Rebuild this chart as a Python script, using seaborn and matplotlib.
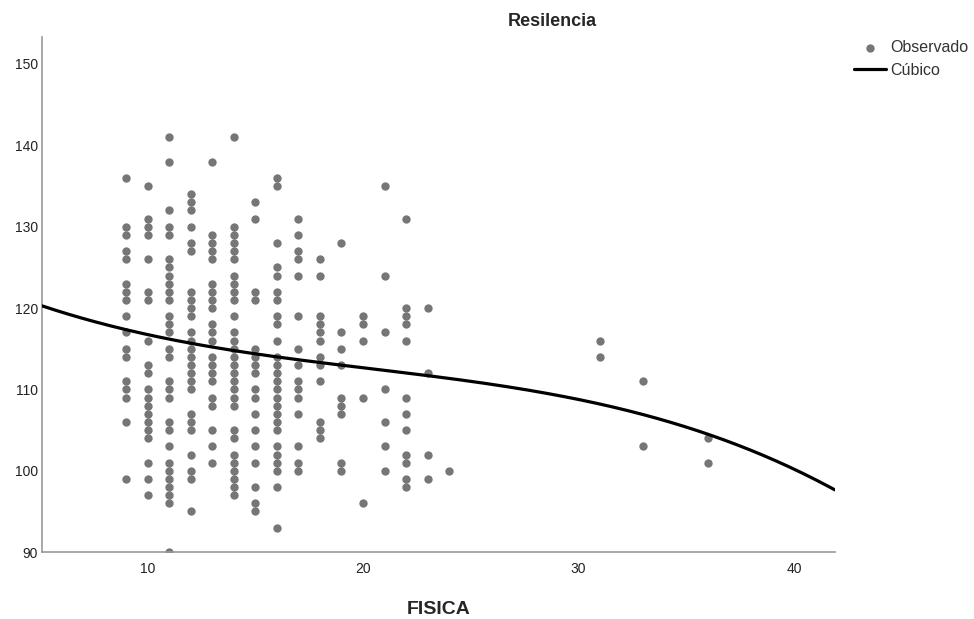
import numpy as np
import pandas as pd
import matplotlib
matplotlib.use('Agg')
import matplotlib.pyplot as plt
import seaborn as sns

# Observed Resilencia values, grouped by FISICA score
res_09 = [136, 130, 129, 127, 126, 123, 122, 121, 119, 117, 115, 114, 111, 110, 109, 106, 99]
res_10 = [135, 131, 130, 129, 126, 122, 121, 116, 113, 112, 110, 109, 108, 107, 106, 105, 104, 101, 99, 97]
res_11 = [141, 138, 132, 130, 129, 126, 125, 124, 123, 122, 121, 119, 118, 117, 115, 114,
          111, 110, 109, 106, 105, 103, 101, 100, 99, 98, 97, 96, 90]
res_12 = [134, 133, 132, 130, 128, 127, 122, 121, 120, 119, 117, 116, 115, 114, 113, 112,
          111, 110, 107, 106, 105, 102, 100, 99, 95]
res_13 = [138, 129, 128, 127, 126, 123, 122, 121, 120, 118, 117, 116, 114, 113, 112, 111,
          109, 108, 105, 103, 101]
res_14 = [141, 130, 129, 128, 127, 126, 124, 123, 122, 121, 119, 117, 116, 115, 114, 113,
          112, 111, 110, 109, 108, 105, 104, 102, 101, 100, 99, 98, 97]
res_15 = [133, 131, 122, 121, 115, 114, 113, 112, 110, 109, 107, 105, 103, 101, 98, 96, 95]
res_16 = [136, 135, 128, 125, 124, 122, 121, 119, 118, 116, 114, 113, 112, 111, 110, 109,
          108, 107, 106, 105, 103, 102, 101, 100, 98, 93]
res_17 = [131, 129, 127, 126, 124, 119, 115, 113, 111, 110, 109, 107, 103, 101, 100]
res_18 = [126, 124, 119, 118, 117, 116, 114, 113, 111, 106, 105, 104]
res_19 = [128, 117, 115, 113, 109, 108, 107, 101, 100]
res_20 = [119, 118, 116, 109, 96]
res_21 = [135, 124, 117, 110, 106, 103, 100]
res_22 = [131, 120, 119, 118, 116, 109, 107, 105, 102, 101, 99, 98]
res_23 = [120, 112, 102, 99]
res_24 = [100]
res_31 = [116, 114]
res_33 = [111, 103]
res_36 = [104, 101]

fisica_scores = [9, 10, 11, 12, 13, 14, 15, 16, 17, 18, 19, 20, 21, 22, 23, 24, 31, 33, 36]
groups = [res_09, res_10, res_11, res_12, res_13, res_14, res_15, res_16, res_17, res_18,
          res_19, res_20, res_21, res_22, res_23, res_24, res_31, res_33, res_36]

# readings of the SPSS cubic fit (the full sample has overlapping cases, so refit from these)
cubic_x = [5.14, 9.03, 14.12, 18.75, 24.15, 28.19, 32.82, 35.9, 38.99, 41.76]
cubic_y = [120.3, 117.25, 114.7, 113.1, 111.2, 109.9, 107.1, 104.4, 101.3, 98.0]

rows = [(x, y) for x, ys in zip(fisica_scores, groups) for y in ys]
df = pd.DataFrame(rows, columns=['FISICA', 'Resilencia'])

x_min, x_max = 5.1, 41.9
coefs = np.polyfit(cubic_x, cubic_y, 3)
curve = pd.DataFrame({'FISICA': np.linspace(x_min, x_max, 300)})
curve['Resilencia'] = np.polyval(coefs, curve['FISICA'])

sns.set_style('white')
plt.rcParams['font.family'] = ['Liberation Sans', 'DejaVu Sans']

fig = plt.figure(figsize=(9.74, 6.19), dpi=100)
ax = fig.add_axes([0.0431, 0.108, 0.814, 0.832])

sns.scatterplot(data=df, x='FISICA', y='Resilencia', ax=ax, color='#767676',
                s=36, linewidth=0, label='Observado', zorder=2)
sns.lineplot(data=curve, x='FISICA', y='Resilencia', ax=ax, color='black',
             linewidth=2.3, label='Cúbico', zorder=3)

ax.set_xlim(x_min, x_max)
ax.set_ylim(90, 153.3)
ax.set_xticks([10, 20, 30, 40])
ax.set_yticks([90, 100, 110, 120, 130, 140, 150])
ax.tick_params(axis='both', length=0, labelsize=10, colors='#222222')
ax.tick_params(axis='y', pad=3)
ax.tick_params(axis='x', pad=7)
for side in ['top', 'right']:
    ax.spines[side].set_visible(False)
for side in ['left', 'bottom']:
    ax.spines[side].set_color('#999999')
    ax.spines[side].set_linewidth(1.2)

ax.set_xlabel('FISICA', fontsize=14, fontweight='bold', labelpad=18)
ax.set_ylabel('')
fig.text(0.567, 0.966, 'Resilencia', ha='center', va='center', fontsize=13, fontweight='bold')

ax.legend_.remove()
handles, labels = ax.get_legend_handles_labels()
fig.legend(handles, labels, loc='upper left', bbox_to_anchor=(0.87, 0.945),
           frameon=False, fontsize=11.5, handlelength=2.0, handletextpad=0.3,
           labelspacing=0.45, borderaxespad=0, labelcolor='#333333')

fig.savefig('out.png', dpi=100)
